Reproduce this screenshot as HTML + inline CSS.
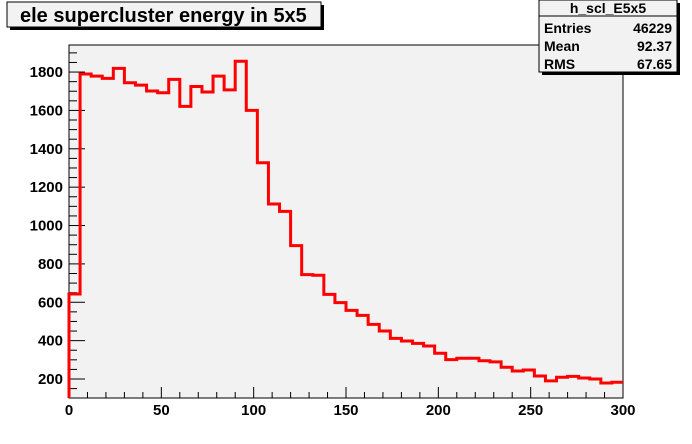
<!DOCTYPE html>
<html><head><meta charset="utf-8"><style>
body{margin:0;background:#fff;}
svg{display:block;font-family:"Liberation Sans",Arial,sans-serif;font-weight:bold;}
</style></head><body>
<svg id="c" width="692" height="444" viewBox="0 0 692 444">
<rect x="0" y="0" width="692" height="444" fill="#fff"/>
<rect x="69" y="45" width="554" height="353" fill="#f2f2f2" stroke="#000" stroke-width="1"/>
<g id="yt"></g>
<g id="xt"></g>
<path id="h" fill="none" stroke="#ff0000" stroke-width="3"/>
<g>
<rect x="10" y="5" width="314" height="25" fill="#000"/>
<rect x="7" y="2" width="314" height="25" fill="#f2f2f2" stroke="#000"/>
<text x="20" y="22" font-size="20">ele supercluster energy in 5x5</text>
</g>
<g>
<rect x="542" y="3" width="138" height="72" fill="#000"/>
<rect x="539" y="0" width="138" height="72" fill="#f2f2f2" stroke="#000"/>
<line x1="539" y1="16" x2="677" y2="16" stroke="#000"/>
<text x="608" y="13" font-size="14" text-anchor="middle">h_scl_E5x5</text>
<text x="544" y="33" font-size="14">Entries</text>
<text x="672" y="33" font-size="14" text-anchor="end">46229</text>
<text x="544" y="51" font-size="14">Mean</text>
<text x="672" y="51" font-size="14" text-anchor="end">92.37</text>
<text x="544" y="69" font-size="14">RMS</text>
<text x="672" y="69" font-size="14" text-anchor="end">67.65</text>
</g>
</svg>
<script>
const binLow = 0, binWidth = 6;
const counts = [643,1790,1779,1767,1819,1744,1732,1701,1692,1762,1621,1725,1696,1779,1707,1856,1600,1327,1112,1074,895,744,741,641,598,558,532,485,450,412,398,386,372,334,301,308,308,295,289,261,242,247,216,190,209,214,205,200,179,183];
const xTicks = [0,50,100,150,200,250,300];
const yTicks = [200,400,600,800,1000,1200,1400,1600,1800];
const X0=69,X1=623,Y0=398,Y1=45, xmin=0,xmax=300,ymin=101,ymax=1941;
const sx=v=>X0+(v-xmin)/(xmax-xmin)*(X1-X0);
const sy=v=>Y0-(v-ymin)/(ymax-ymin)*(Y0-Y1);
const NS="http://www.w3.org/2000/svg";
function mk(t,a,p){const e=document.createElementNS(NS,t);for(const k in a)e.setAttribute(k,a[k]);p.appendChild(e);return e;}
let d="M"+sx(binLow)+","+Y0;
counts.forEach((c,i)=>{const a=sx(binLow+i*binWidth),b=sx(binLow+(i+1)*binWidth);d+=" L"+a+","+sy(c)+" L"+b+","+sy(c);});
document.getElementById("h").setAttribute("d",d);
const xt=document.getElementById("xt"),yt=document.getElementById("yt");
for(let v=0;v<=300;v+=10){const x=sx(v);const big=v%50===0;const l=mk("line",{x1:x,x2:x,y1:Y0,y2:Y0-(big?11:6),stroke:"#000"},xt);}
xTicks.forEach(v=>{const t=mk("text",{x:sx(v),y:415,"font-size":15,"text-anchor":"middle"},xt);t.textContent=v;

});
for(let v=200;v<=1900;v+=50){if(v<ymin)continue;const y=sy(v);const big=v%200===0;mk("line",{x1:X0,x2:X0+(big?16:8),y1:y,y2:y,stroke:"#000"},yt);}
mk("line",{x1:X0,x2:X0+8,y1:sy(150),y2:sy(150),stroke:"#000"},yt);
yTicks.forEach(v=>{const t=mk("text",{x:63,y:sy(v)+5,"font-size":15,"text-anchor":"end"},yt);t.textContent=v;

});
</script>
</body></html>
